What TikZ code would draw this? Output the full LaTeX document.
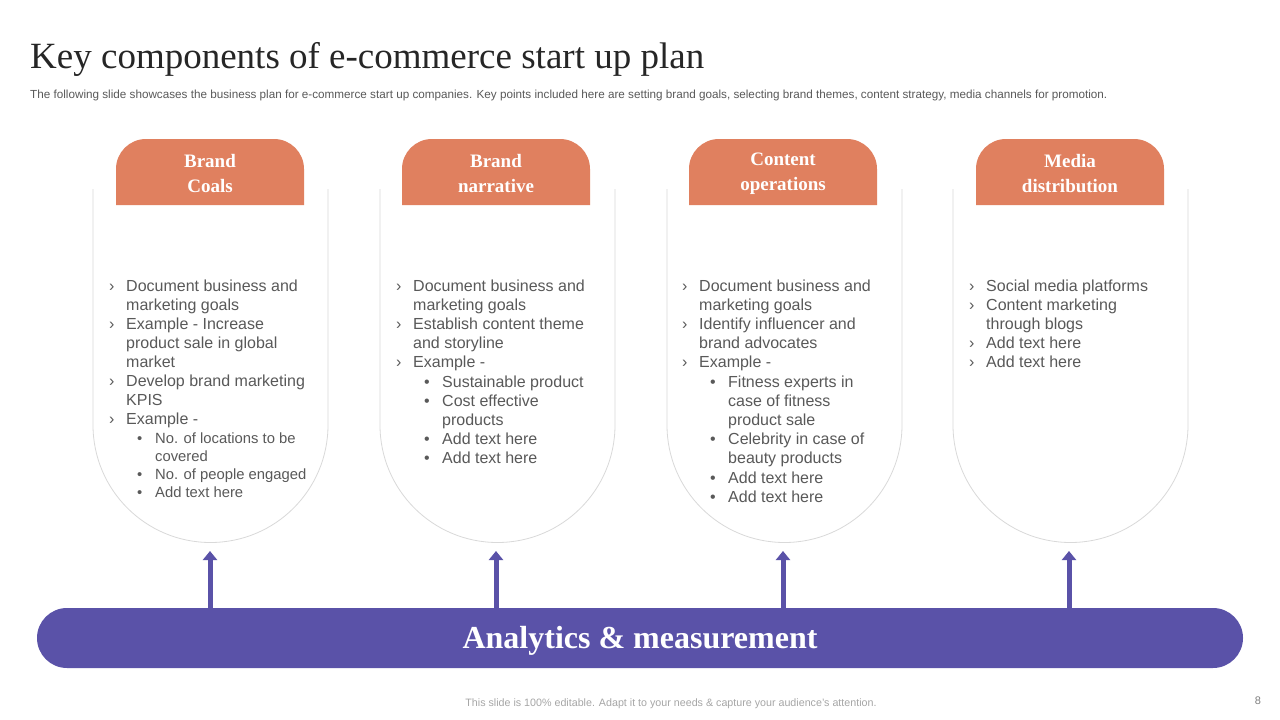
\documentclass[tikz,border=0pt]{standalone}
\usepackage{fontspec}
\setmainfont{Liberation Serif}
\setsansfont{Liberation Sans}
\usetikzlibrary{arrows.meta}
\definecolor{org}{HTML}{E0805F}
\definecolor{pur}{HTML}{5A52A8}
\definecolor{txt}{HTML}{595959}
\definecolor{edge}{HTML}{D9D9D9}
\tikzset{
 card/.style={draw=edge,line width=0.8pt,fill=white},
 tab/.style={fill=org},
 hdr/.style={text=white,font=\fontsize{19}{25}\selectfont\bfseries,align=center},
 li/.style={anchor=base west,inner sep=0,text=txt,font=\sffamily\fontsize{16}{19}\selectfont},
 lis/.style={li,font=\sffamily\fontsize{14.8}{18}\selectfont},
 arr/.style={pur,line width=5pt,-{Triangle[width=14pt,length=9pt]}}
}
\newcommand{\Ln}[3]{\node[li] at (#1,#2+5.5) {#3};}
\newcommand{\Ls}[3]{\node[lis] at (#1,#2+5) {#3};}
\newcommand{\Mk}[3]{\node[li] at (#1,#2+5.5) {\symbol{"203A}}; \node[li] at (#1+17,#2+5.5) {#3};}
\newcommand{\Bu}[3]{\node[li] at (#1+28,#2+5.5) {•}; \node[li] at (#1+46,#2+5.5) {#3};}
\newcommand{\Bs}[3]{\node[lis] at (#1+28,#2+5) {•}; \node[lis] at (#1+46,#2+5) {#3};}
\newcommand{\Card}[4]{% x left, tab left, line1, line2
 \draw[card] (#1,189) -- (#1,425) arc[start angle=180,end angle=0,radius=117.5] -- (#1+235,189);
 \fill[tab] (#2,205) -- (#2,169) arc[start angle=180,end angle=270,radius=30] -- (#2+158,139) arc[start angle=270,end angle=360,radius=30] -- (#2+188,205) -- cycle;
 \node[hdr] at (#2+94,173.5) {#3\\#4};
}
\begin{document}
\begin{tikzpicture}[x=1pt,y=-1pt]
\useasboundingbox[fill=white] (0,0) rectangle (1280,720);
\node[anchor=base west,inner sep=0,font=\fontsize{37}{42}\selectfont,text=black!85] (title) at (30,68) {Key components of e-commerce start up plan};
\node[anchor=base west,inner sep=0,font=\sffamily\fontsize{11.7}{13}\selectfont,text=txt] (sub) at (30,98) {The following slide showcases the business plan for e-commerce start up companies. Key points included here are setting brand goals, selecting brand themes, content strategy, media channels for promotion.};

\Card{93}{116}{Brand}{Coals}
\Card{380}{402}{Brand}{narrative}
\Card{667}{689}{Content}{operations}
\Card{953}{976}{Media}{distribution}

% card 1
\Mk{109}{286}{Document business and} \Ln{126}{305}{marketing goals}
\Mk{109}{324}{Example - Increase} \Ln{126}{343}{product sale in global} \Ln{126}{362}{market}
\Mk{109}{381}{Develop brand marketing} \Ln{126}{400}{KPIS}
\Mk{109}{419}{Example -}
\Bs{109}{438}{No. of locations to be} \Ls{155}{456}{covered}
\Bs{109}{474}{No. of people engaged}
\Bs{109}{492}{Add text here}
% card 2
\Mk{396}{286}{Document business and} \Ln{413}{305}{marketing goals}
\Mk{396}{324}{Establish content theme} \Ln{413}{343}{and storyline}
\Mk{396}{362}{Example -}
\Bu{396}{382}{Sustainable product}
\Bu{396}{401}{Cost effective} \Ln{442}{420}{products}
\Bu{396}{439}{Add text here}
\Bu{396}{458}{Add text here}
% card 3
\Mk{682}{286}{Document business and} \Ln{699}{305}{marketing goals}
\Mk{682}{324}{Identify influencer and} \Ln{699}{343}{brand advocates}
\Mk{682}{362}{Example -}
\Bu{682}{382}{Fitness experts in} \Ln{728}{401}{case of fitness} \Ln{728}{420}{product sale}
\Bu{682}{439}{Celebrity in case of} \Ln{728}{458}{beauty products}
\Bu{682}{478}{Add text here}
\Bu{682}{497}{Add text here}
% card 4
\Mk{969}{286}{Social media platforms}
\Mk{969}{305}{Content marketing} \Ln{986}{324}{through blogs}
\Mk{969}{343}{Add text here}
\Mk{969}{362}{Add text here}

% bar
\node[fill=pur,rounded corners=30pt,minimum width=1206pt,minimum height=60pt,inner sep=0] (bar) at (640,638) {};
\node[text=white,font=\fontsize{32}{36}\selectfont\bfseries] (bartxt) at (640,641) {Analytics \& measurement};
\foreach \x/\n in {210/a1,496/a2,783/a3,1069/a4}{
 \coordinate (\n) at (\x,551);
 \draw[arr] (bar.north -| \n) -- (\n);
}
\node[font=\sffamily\fontsize{10.7}{12}\selectfont,text=black!35] (foot) at (671,704) {This slide is 100\% editable. Adapt it to your needs \& capture your audience's attention.};
\node[font=\sffamily\fontsize{11}{12}\selectfont,text=black!50] (pg) at (1258,701) {8};
\end{tikzpicture}
\end{document}
